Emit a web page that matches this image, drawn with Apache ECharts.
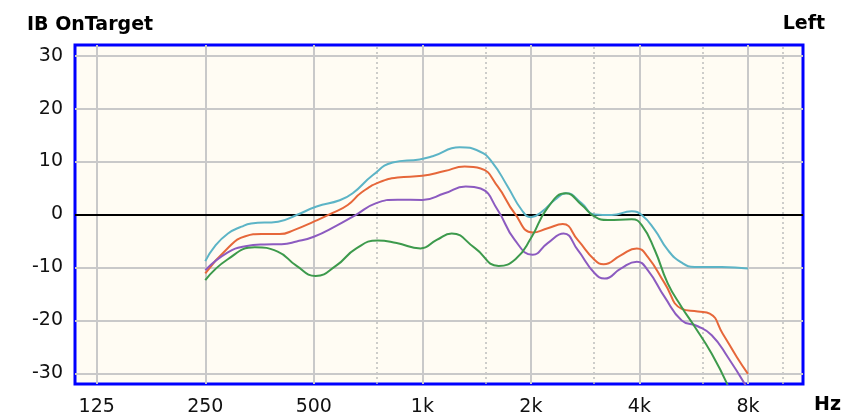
<!DOCTYPE html>
<html><head><meta charset="utf-8">
<script src="https://cdn.jsdelivr.net/npm/echarts@6/dist/echarts.min.js"></script>
<style>html,body{margin:0;padding:0;background:#fff}#c{width:848px;height:418px}</style>
</head><body><div id="c"></div>
<script>
// Readings per curve: frequency (Hz) and level (dB)
const cyanHz   = [250, 265, 289, 315, 335, 398, 448, 509, 590, 641, 728, 827, 983, 1068, 1269, 1442, 1557, 1724, 1886, 2000, 2143, 2328, 2509, 2767, 3006, 3351, 3808, 4059, 4411, 4793, 5241, 5695, 6768, 8000];
const cyanDb   = [-8.8, -6.1, -3.6, -2.3, -1.7, -1.35, -0.1, 1.5, 2.7, 4.0, 7.4, 9.8, 10.4, 11.0, 12.7, 11.9, 10.0, 5.3, 0.85, -0.5, 0.5, 2.75, 4.0, 2.1, 0.0, -0.1, 0.6, -0.1, -2.9, -6.7, -9.1, -9.9, -9.9, -10.2];

const orangeHz = [250, 288, 323, 358, 402, 442, 500, 560, 621, 679, 761, 854, 1000, 1153, 1310, 1451, 1618, 1804, 2023, 2227, 2451, 2697, 3006, 3184, 3550, 3932, 4218, 4702, 5241, 5805, 6268, 6810, 7448, 8000];
const orangeDb = [-11.1, -6.4, -4.1, -3.7, -3.7, -2.9, -1.35, 0.2, 1.8, 4.2, 6.1, 7.0, 7.3, 8.2, 9.05, 8.7, 5.3, 0.2, -3.4, -2.6, -1.8, -4.8, -8.6, -9.4, -7.7, -6.4, -8.0, -13.0, -17.8, -18.3, -18.7, -22.5, -26.9, -30.1];

const purpleHz = [250, 288, 323, 365, 407, 448, 500, 575, 653, 742, 854, 1000, 1153, 1319, 1451, 1618, 1804, 2023, 2227, 2466, 2697, 3006, 3205, 3550, 3932, 4218, 4702, 5241, 5805, 6348, 7031, 8000];
const purpleDb = [-10.5, -7.2, -6.0, -5.65, -5.6, -5.1, -4.2, -2.2, -0.1, 2.1, 2.8, 2.75, 4.0, 5.3, 4.9, 0.85, -4.8, -7.6, -5.4, -3.6, -6.7, -11.1, -12.1, -10.2, -8.9, -10.5, -15.6, -20.0, -21.1, -22.8, -26.9, -33.0];

const greenHz  = [250, 288, 343, 397, 448, 506, 578, 653, 752, 849, 989, 1096, 1206, 1397, 1628, 1815, 2000, 2227, 2498, 2767, 3006, 3267, 3808, 4059, 4411, 4793, 5241, 5695, 6348, 7031];
const greenDb  = [-12.4, -8.5, -6.2, -7.0, -9.7, -11.6, -9.6, -6.5, -4.9, -5.4, -6.4, -4.8, -3.6, -6.3, -9.7, -8.4, -4.5, 1.3, 4.0, 1.8, -0.4, -1.05, -0.9, -2.0, -6.7, -13.0, -17.5, -21.2, -26.3, -32.2];

// Axis ticks
const xTickFreqs  = [125, 250, 500, 1000, 2000, 4000, 8000];
const xTickLabels = ['125', '250', '500', '1k', '2k', '4k', '8k'];
const xMinorFreqs = [750, 1500, 3000, 6000, 10000];
const yTicks      = [30, 20, 10, 0, -10, -20, -30];
const xRange = [108.8, 11370];
const yRange = [-32, 32];

const REF = 125;
const oct = f => Math.log2(f / REF);
const mk = (hz, db) => hz.map((f, i) => [oct(f), db[i]]);

const FONT = 'DejaVu Sans';
const gridColor = '#c9c9c9';

const markData = [];
xTickFreqs.forEach(f => markData.push({xAxis: oct(f), lineStyle: {color: gridColor, width: 2, type: 'solid'}}));
xMinorFreqs.forEach(f => markData.push({xAxis: oct(f), lineStyle: {color: '#bdbdbd', width: 1.5, type: [2, 3]}}));
yTicks.forEach(v => markData.push({yAxis: v, lineStyle: v === 0 ? {color: '#000', width: 2, type: 'solid'} : {color: gridColor, width: 2, type: 'solid'}}));

const lineSeries = (name, hz, db, color) => ({
  name, type: 'line', data: mk(hz, db), smooth: 0.5, symbol: 'none', z: 5,
  lineStyle: {color, width: 2}, itemStyle: {color}, clip: true
});

const chart = echarts.init(document.getElementById('c'), null, {renderer: 'canvas'});
chart.setOption({
  animation: false,
  backgroundColor: '#ffffff',
  title: [
    {text: 'IB OnTarget', left: 27, top: 16, padding: 0,
     textStyle: {fontFamily: FONT, fontWeight: 'bold', fontSize: 19, color: '#000'}},
    {text: 'Left', right: 23, top: 15, padding: 0,
     textStyle: {fontFamily: FONT, fontWeight: 'bold', fontSize: 19, color: '#000'}}
  ],
  graphic: [
    {type: 'text', left: 814, top: 396, style: {text: 'Hz', fontFamily: FONT, fontWeight: 'bold', fontSize: 19, fill: '#000'}}
  ],
  grid: {
    left: 75, right: 45, top: 45, bottom: 34,
    show: true, backgroundColor: '#fffcf3', borderColor: '#0000ff', borderWidth: 3
  },
  xAxis: {
    type: 'value', min: oct(xRange[0]), max: oct(xRange[1]),
    axisLine: {show: false}, axisTick: {show: false}, splitLine: {show: false},
    axisLabel: {
      customValues: xTickFreqs.map(oct),
      formatter: v => xTickLabels[Math.round(v)],
      fontFamily: FONT, fontSize: 19, color: '#111', margin: 14
    }
  },
  yAxis: {
    type: 'value', min: yRange[0], max: yRange[1],
    axisLine: {show: false}, axisTick: {show: false}, splitLine: {show: false},
    axisLabel: {
      customValues: yTicks,
      fontFamily: FONT, fontSize: 19, color: '#111', margin: 12
    }
  },
  series: [
    {type: 'line', data: [], z: 1, silent: true,
     markLine: {silent: true, symbol: 'none', label: {show: false}, animation: false, data: markData}},
    lineSeries('cyan', cyanHz, cyanDb, '#5cb4c6'),
    lineSeries('orange', orangeHz, orangeDb, '#e6673a'),
    lineSeries('purple', purpleHz, purpleDb, '#8c5bc0'),
    lineSeries('green', greenHz, greenDb, '#3d9a4c')
  ]
});
</script>
</body></html>
